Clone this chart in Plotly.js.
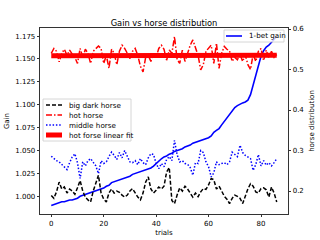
<!DOCTYPE html>
<html>
<head>
<meta charset="utf-8">
<script src="https://cdn.plot.ly/plotly-3.0.1.min.js"></script>
<style>html,body{margin:0;padding:0;background:#fff;}#chart{width:320px;height:240px;}</style>
</head>
<body>
<div id="chart"></div>
<script>
const gain = [0.990,0.991,0.992,0.993,0.994,0.994,0.995,0.996,0.996,0.997,
  0.998,1.000,1.001,1.002,1.003,1.004,1.005,1.006,1.007,1.008,
  1.009,1.011,1.012,1.015,1.016,1.017,1.018,1.019,1.020,1.021,
  1.022,1.024,1.025,1.026,1.027,1.028,1.029,1.030,1.031,1.033,
  1.036,1.039,1.041,1.043,1.044,1.046,1.047,1.049,1.050,1.051,
  1.052,1.054,1.055,1.056,1.058,1.059,1.060,1.061,1.062,1.063,
  1.064,1.066,1.070,1.072,1.074,1.078,1.082,1.086,1.090,1.093,
  1.097,1.099,1.101,1.102,1.103,1.105,1.111,1.122,1.132,1.145,
  1.153,1.159,1.163,1.165,1.168,1.171,1.1746];

const bigDarkHorse = [0.189,0.182,0.198,0.222,0.205,0.210,0.195,0.205,0.200,0.192,
  0.208,0.226,0.200,0.185,0.178,0.173,0.200,0.222,0.239,0.195,
  0.180,0.173,0.195,0.205,0.195,0.200,0.197,0.190,0.185,0.190,
  0.200,0.206,0.195,0.185,0.178,0.195,0.222,0.235,0.205,0.195,
  0.202,0.210,0.205,0.212,0.247,0.258,0.177,0.169,0.190,0.208,
  0.200,0.212,0.205,0.195,0.185,0.195,0.186,0.198,0.206,0.204,
  0.215,0.231,0.228,0.205,0.212,0.200,0.187,0.180,0.169,0.182,
  0.190,0.187,0.182,0.169,0.188,0.205,0.218,0.212,0.198,0.195,
  0.206,0.208,0.203,0.185,0.210,0.195,0.173];

const hotHorse = [0.540,0.552,0.545,0.519,0.540,0.550,0.535,0.548,0.538,0.530,
  0.515,0.552,0.530,0.550,0.540,0.515,0.545,0.552,0.558,0.552,
  0.515,0.535,0.503,0.550,0.540,0.512,0.545,0.560,0.552,0.540,
  0.527,0.545,0.552,0.535,0.508,0.494,0.530,0.535,0.520,0.540,
  0.530,0.552,0.560,0.550,0.523,0.548,0.540,0.581,0.525,0.515,
  0.548,0.520,0.540,0.560,0.573,0.555,0.535,0.499,0.512,0.545,
  0.552,0.560,0.515,0.565,0.503,0.540,0.557,0.550,0.546,0.520,
  0.530,0.524,0.538,0.520,0.536,0.512,0.500,0.538,0.520,0.545,
  0.552,0.522,0.548,0.528,0.545,0.530,0.537];

const middleHorse = [0.286,0.280,0.275,0.272,0.265,0.258,0.253,0.270,0.284,0.292,
  0.270,0.231,0.272,0.262,0.275,0.280,0.272,0.262,0.243,0.275,
  0.268,0.272,0.285,0.296,0.288,0.278,0.295,0.282,0.300,0.285,
  0.272,0.270,0.275,0.265,0.280,0.270,0.265,0.282,0.292,0.290,
  0.268,0.255,0.268,0.260,0.278,0.285,0.275,0.325,0.290,0.272,
  0.275,0.268,0.266,0.258,0.239,0.270,0.268,0.300,0.295,0.272,
  0.260,0.235,0.245,0.272,0.265,0.268,0.270,0.265,0.272,0.296,
  0.290,0.285,0.313,0.295,0.288,0.285,0.280,0.251,0.265,0.290,
  0.262,0.275,0.264,0.270,0.262,0.270,0.280];

const fitTrials = [0, 86];
const hotFit = [0.534, 0.535];

const xTicks = [0, 20, 40, 60, 80];
const gainTicks = [1.000, 1.025, 1.050, 1.075, 1.100, 1.125, 1.150, 1.175];
const distTicks = [0.2, 0.3, 0.4, 0.5, 0.6];

const trials = gain.map((_, i) => i);
const F = 'DejaVu Sans, sans-serif';

const styles = {
  gain: {color: '#0000ff', width: 1.6},
  dark: {color: '#000000', width: 1.5, dash: '4px,2px'},
  hot: {color: '#ff0000', width: 1.5, dash: '6px,2px,1.5px,2px'},
  middle: {color: '#0000ff', width: 1.5, dash: '1.5px,1.8px'},
  fit: {color: '#ff0000', width: 5}
};

const traces = [
  {x: trials, y: gain, type: 'scatter', mode: 'lines', name: '1-bet gain', line: styles.gain, yaxis: 'y'},
  {x: trials, y: bigDarkHorse, type: 'scatter', mode: 'lines', name: 'big dark horse', line: styles.dark, yaxis: 'y2'},
  {x: trials, y: hotHorse, type: 'scatter', mode: 'lines', name: 'hot horse', line: styles.hot, yaxis: 'y2'},
  {x: trials, y: middleHorse, type: 'scatter', mode: 'lines', name: 'middle horse', line: styles.middle, yaxis: 'y2'},
  {x: fitTrials, y: hotFit, type: 'scatter', mode: 'lines', name: 'hot forse linear fit', line: styles.fit, yaxis: 'y2'}
];

// Legend drawn as layout shapes/annotations (pixel positions -> paper coords)
const L = 40, R = 288, T = 28, B = 214;
const px = v => (v - L) / (R - L);
const py = v => (B - v) / (B - T);
const shapes = [];
const annotations = [];
function legendBox(x0, y0, x1, y1) {
  shapes.push({type: 'rect', xref: 'paper', yref: 'paper', x0: px(x0), x1: px(x1), y0: py(y1), y1: py(y0),
    fillcolor: 'rgba(255,255,255,0.8)', line: {color: '#cccccc', width: 0.8}, layer: 'above'});
}
function legendItem(xs, y, text, style) {
  shapes.push({type: 'line', xref: 'paper', yref: 'paper', x0: px(xs), x1: px(xs + 16), y0: py(y), y1: py(y),
    line: {color: style.color, width: style.width, dash: style.dash || 'solid'}, layer: 'above'});
  annotations.push({xref: 'paper', yref: 'paper', x: px(xs + 21), y: py(y), xanchor: 'left', yanchor: 'middle',
    text: text, showarrow: false, font: {family: F, size: 7.2, color: '#000'}});
}
legendBox(43, 99, 131, 141);
legendItem(46, 105, 'big dark horse', styles.dark);
legendItem(46, 115, 'hot horse', styles.hot);
legendItem(46, 125, 'middle horse', styles.middle);
legendItem(46, 135, 'hot forse linear fit', styles.fit);
legendBox(224, 30, 284, 42);
legendItem(226, 36, '1-bet gain', styles.gain);

const axFont = {family: F, size: 7, color: '#000'};
const layout = {
  width: 320, height: 240,
  margin: {l: 40, r: 32, t: 28, b: 26, pad: 0},
  paper_bgcolor: '#fff', plot_bgcolor: '#fff',
  font: {family: F, size: 7, color: '#000'},
  showlegend: false,
  title: {text: 'Gain vs horse distribution', font: {family: F, size: 8.3, color: '#000'},
          x: 0.5, xref: 'paper', y: 0.905, yref: 'container', yanchor: 'middle'},
  xaxis: {range: [-4.3, 90.3], tickvals: xTicks, ticks: 'outside', ticklen: 2.5, tickwidth: 0.8,
          tickcolor: '#000', showgrid: false, zeroline: false, showline: true, linecolor: '#000',
          linewidth: 0.8, mirror: true, tickfont: axFont,
          title: {text: 'trials', font: axFont, standoff: 3}},
  yaxis: {range: [0.9807, 1.1838], tickvals: gainTicks, tickformat: '.3f', ticks: 'outside',
          ticklen: 2.5, tickwidth: 0.8, tickcolor: '#000', showgrid: false, zeroline: false,
          showline: true, linecolor: '#000', linewidth: 0.8, tickfont: axFont,
          title: {text: 'Gain', font: axFont, standoff: 4}},
  yaxis2: {range: [0.1433, 0.6025], tickvals: distTicks, tickformat: '.1f', overlaying: 'y',
           side: 'right', ticks: 'outside', ticklen: 2.5, tickwidth: 0.8, tickcolor: '#000',
           showgrid: false, zeroline: false, showline: true, linecolor: '#000', linewidth: 0.8,
           tickfont: axFont, title: {text: 'horse distribution', font: axFont, standoff: 5}},
  shapes: shapes,
  annotations: annotations
};

Plotly.newPlot('chart', traces, layout, {staticPlot: true, displayModeBar: false});
</script>
</body>
</html>
